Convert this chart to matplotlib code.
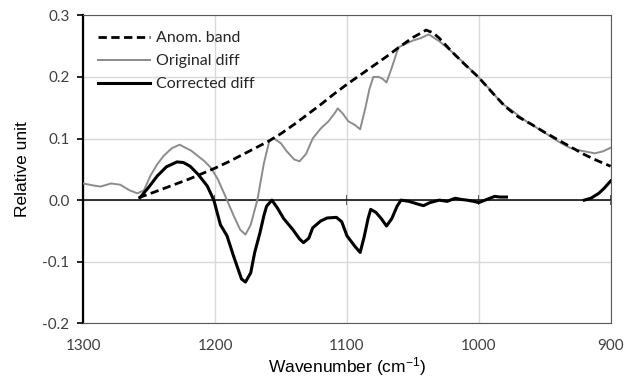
import numpy as np
import matplotlib
matplotlib.use("Agg")
import matplotlib.pyplot as plt

# data (wavenumber, relative unit)
band_wn = [1258, 1250, 1240, 1230, 1220, 1211, 1200, 1190, 1180, 1170, 1160, 1150,
           1140, 1130, 1120, 1110, 1100, 1090, 1080, 1070, 1060, 1050, 1040, 1035,
           1030, 1020, 1010, 1000, 990, 980, 970, 960, 950, 940, 930, 920, 910, 900]
band_val = [0.004, 0.010, 0.018, 0.026, 0.034, 0.042, 0.052, 0.062, 0.073, 0.084, 0.095, 0.108,
            0.123, 0.139, 0.155, 0.172, 0.188, 0.203, 0.218, 0.233, 0.249, 0.264, 0.276, 0.272,
            0.263, 0.240, 0.219, 0.199, 0.175, 0.152, 0.135, 0.123, 0.110, 0.098, 0.086, 0.074,
            0.064, 0.055]

orig_wn = [1300, 1293, 1287, 1279, 1272, 1265, 1259, 1254, 1249, 1244, 1239, 1233, 1227,
           1218, 1208, 1203, 1198, 1192, 1186, 1181, 1177, 1173, 1168, 1163, 1159, 1156,
           1150, 1146, 1140, 1136, 1131, 1126, 1120, 1114, 1109, 1107, 1103, 1099, 1094,
           1090, 1086, 1083, 1080, 1076, 1073, 1070, 1066, 1061, 1055, 1050, 1044, 1038,
           1030, 1020, 1010, 1000, 990, 983, 974, 964, 955, 946, 938, 931, 922, 912, 906, 900]
orig_val = [0.027, 0.024, 0.022, 0.027, 0.025, 0.016, 0.011, 0.016, 0.040, 0.058, 0.072, 0.084, 0.090,
            0.080, 0.063, 0.052, 0.034, 0.005, -0.025, -0.048, -0.056, -0.040, 0.000, 0.060, 0.095, 0.101,
            0.092, 0.080, 0.066, 0.063, 0.075, 0.100, 0.116, 0.128, 0.142, 0.149, 0.140, 0.128, 0.122,
            0.115, 0.150, 0.180, 0.200, 0.200, 0.197, 0.191, 0.215, 0.248, 0.254, 0.259, 0.263, 0.269,
            0.258, 0.240, 0.220, 0.199, 0.176, 0.158, 0.144, 0.128, 0.116, 0.104, 0.093, 0.085, 0.080,
            0.076, 0.079, 0.085]

corr_wn = [1257, 1250, 1244, 1237, 1229, 1224, 1219, 1213, 1206, 1201, 1196, 1191, 1186,
           1180, 1177, 1173, 1170, 1166, 1163, 1161, 1157, 1153, 1148, 1141, 1136, 1133,
           1129, 1126, 1120, 1115, 1108, 1104, 1100, 1094, 1090, 1087, 1084, 1082, 1078,
           1074, 1070, 1066, 1062, 1059, 1053, 1047, 1042, 1037, 1030, 1024, 1018, 1013,
           1009, 1004, 1000, 994, 988, 984, 979, 950, 920, 915, 909, 905, 900]
corr_val = [0.004, 0.022, 0.039, 0.054, 0.062, 0.061, 0.055, 0.042, 0.023, 0.000, -0.040, -0.058, -0.091,
            -0.128, -0.133, -0.118, -0.085, -0.053, -0.025, -0.010, 0.000, -0.012, -0.030, -0.048, -0.063, -0.069,
            -0.062, -0.045, -0.034, -0.029, -0.028, -0.035, -0.058, -0.075, -0.085, -0.060, -0.030, -0.015, -0.020,
            -0.030, -0.042, -0.030, -0.010, 0.000, -0.002, -0.006, -0.009, -0.004, 0.000, -0.002, 0.003, 0.001,
            0.000, -0.002, -0.004, 0.001, 0.006, 0.005, 0.005, np.nan, 0.000, 0.003, 0.011, 0.019, 0.031]

xticks = [1300, 1200, 1100, 1000, 900]
yticks = [-0.2, -0.1, 0.0, 0.1, 0.2, 0.3]
ytick_labels = ["-0.2", "-0.1", "0.0", "0.1", "0.2", "0.3"]

tick_font = "Lato"
label_font = "Liberation Sans"
plt.rcParams["mathtext.default"] = "regular"

fig = plt.figure(figsize=(6.25, 3.81), dpi=100)
ax = fig.add_axes([0.1333, 0.1514, 0.8437, 0.8084])

ax.plot(band_wn, band_val, color="black", lw=2.0, ls=(0, (3.0, 1.6)), label="Anom. band", zorder=4)
ax.plot(orig_wn, orig_val, color="#8c8c8c", lw=1.4, label="Original diff", zorder=3)
ax.plot(corr_wn, corr_val, color="black", lw=2.2, label="Corrected diff", zorder=5)

# horizontal axis line crossing at zero
ax.axhline(0, color="black", lw=1.1, zorder=2.5)

ax.set_xlim(1300, 900)
ax.set_ylim(-0.2, 0.3)
ax.set_xticks(xticks)
ax.set_yticks(yticks)
ax.set_yticklabels(ytick_labels)
ax.grid(True, color="#d9d9d9", lw=1.0)
ax.set_axisbelow(True)

for s in ["top", "right", "bottom"]:
    ax.spines[s].set_color("#595959")
    ax.spines[s].set_linewidth(0.8)
ax.spines["left"].set_color("black")
ax.spines["left"].set_linewidth(1.6)

ax.tick_params(axis="x", length=0, pad=11, labelsize=11, labelcolor="#404040")
ax.tick_params(axis="y", length=4, width=1.2, direction="out", pad=6, labelsize=11, labelcolor="#404040")
for lab in ax.get_xticklabels() + ax.get_yticklabels():
    lab.set_fontfamily(tick_font)

# tick marks on the zero axis
ymin, ymax = ax.get_ylim()
zero_pos = (0 - ymin) / (ymax - ymin)
sec = ax.secondary_xaxis(zero_pos)
sec.set_xticks(xticks)
sec.set_xticklabels([])
sec.spines["bottom"].set_visible(False)
sec.tick_params(axis="x", direction="inout", length=7, width=1.1, color="black")

ax.set_xlabel("Wavenumber (cm$^{-1}$)", fontsize=12.5, fontfamily=label_font, labelpad=2)
ax.set_ylabel("Relative unit", fontsize=12.5, fontfamily=label_font)
ax.yaxis.set_label_coords(-0.102, 0.5)

leg = ax.legend(loc="upper left", bbox_to_anchor=(0.0, 0.995), frameon=False,
                handlelength=3.3, handletextpad=0.35, labelspacing=0.55,
                prop={"family": tick_font, "size": 11.5})
for t in leg.get_texts():
    t.set_color("#262626")

fig.savefig("out.png", dpi=100)
